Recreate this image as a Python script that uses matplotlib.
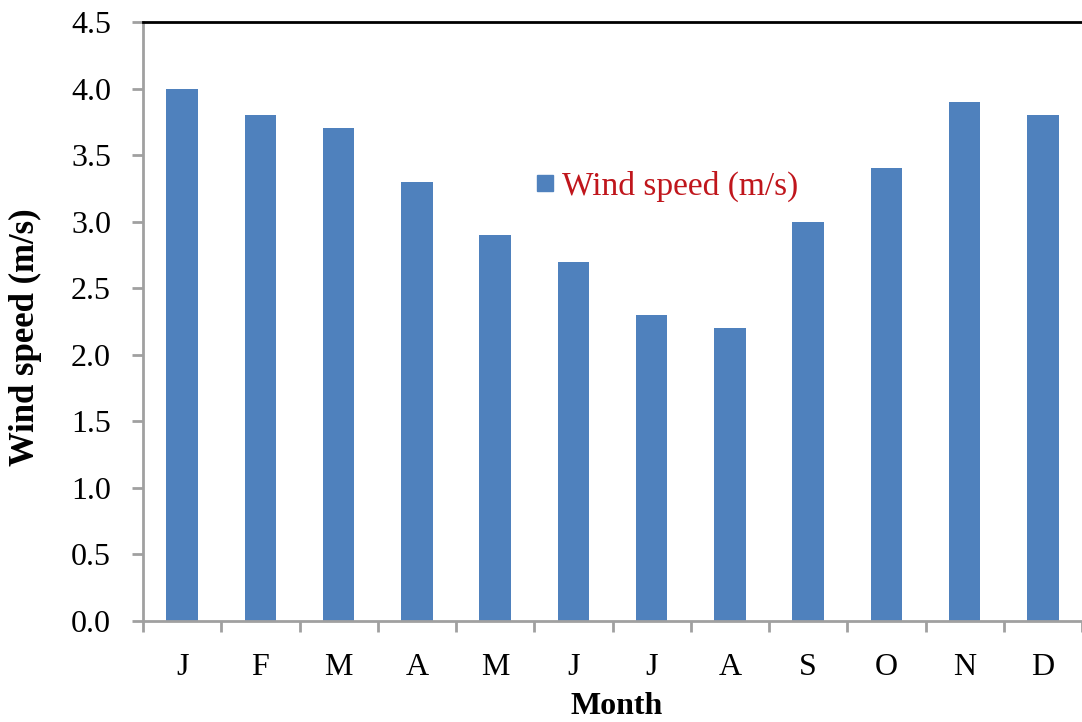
import matplotlib.pyplot as plt
from matplotlib.lines import Line2D

plt.rcParams['font.family'] = ['Liberation Serif', 'DejaVu Serif']

# monthly mean wind speed
months = ["J", "F", "M", "A", "M", "J", "J", "A", "S", "O", "N", "D"]
wind = [4.0, 3.8, 3.7, 3.3, 2.9, 2.7, 2.3, 2.2, 3.0, 3.4, 3.9, 3.8]
yticks = [0.0, 0.5, 1.0, 1.5, 2.0, 2.5, 3.0, 3.5, 4.0, 4.5]

fig = plt.figure(figsize=(10.82, 7.22), dpi=100)
W, H = 1082, 722
ax = fig.add_axes([143 / W, (H - 621) / H, (W - 143) / W, (621 - 22) / H])

x = list(range(len(months)))
ax.bar(x, wind, width=0.4, color="#4F81BD", label="Wind speed (m/s)", zorder=2)

cat = 78.7
ax.set_xlim(-0.5, (W - 143) / cat - 0.5)
ax.set_ylim(0, 4.5)
ax.set_yticks(yticks)
ax.set_yticklabels([f"{v:.1f}" for v in yticks], fontsize=23)

# ticks between categories, labels at centers
ax.set_xticks([i - 0.5 for i in range(13)])
ax.set_xticklabels([])
ax.set_xticks(x, minor=True)
ax.set_xticklabels(months, minor=True, fontsize=23)
ax.tick_params(axis="x", which="major", length=8, width=2, color="#A0A0A0", direction="out")
ax.tick_params(axis="x", which="minor", length=0, pad=23)
ax.tick_params(axis="y", length=8, width=2, color="#A0A0A0", direction="out", pad=15)

for s in ["left", "bottom"]:
    ax.spines[s].set_color("#A0A0A0")
    ax.spines[s].set_linewidth(2)
ax.spines["right"].set_visible(False)
ax.spines["top"].set_color("black")
ax.spines["top"].set_linewidth(2)

# axis titles placed in figure pixels
fig.text(25 / W, (H - 337) / H, "Wind speed (m/s)", rotation=90, fontsize=25,
         fontweight="bold", ha="center", va="center")
fig.text(617 / W, (H - 707) / H, "Month", fontsize=23, fontweight="bold",
         ha="center", va="center")

handle = Line2D([], [], marker="s", color="#4F81BD", linestyle="none", markersize=11)
leg = ax.legend([handle], ["Wind speed (m/s)"], loc="center", bbox_to_anchor=(663 / W, (H - 186) / H),
                bbox_transform=fig.transFigure, frameon=False, fontsize=24,
                handletextpad=0.0, handlelength=1.0)
for t in leg.get_texts():
    t.set_color("#C0161C")

fig.savefig("out.png", dpi=100)
